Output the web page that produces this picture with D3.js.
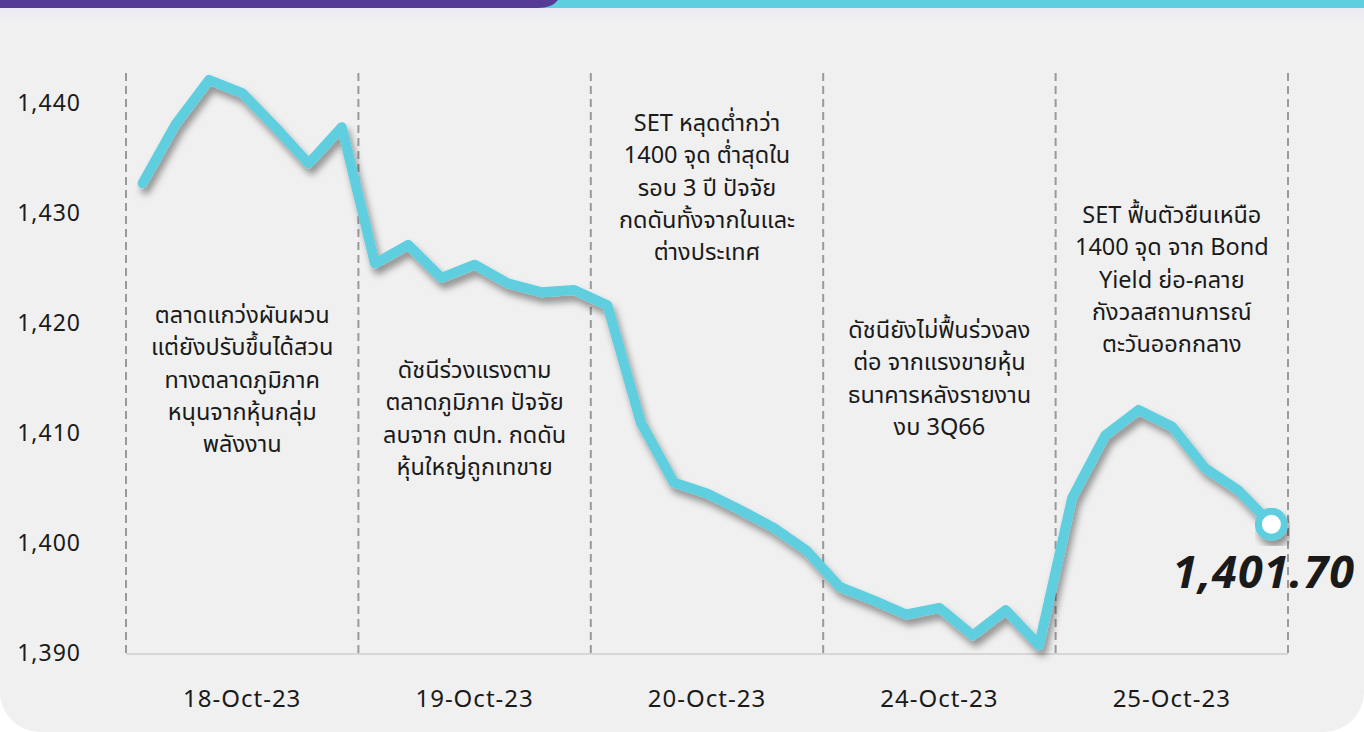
<!DOCTYPE html>
<html lang="th">
<head>
    <meta charset="UTF-8">
    <script src="https://d3js.org/d3.v7.min.js"></script>
</head>
<style>
    body{
        margin: 0;
        background: #ffffff;
    }
    .chart text{
        font-family: "Noto Sans Thai", "Noto Sans", "DejaVu Sans", sans-serif;
        fill: #1a1a1a;
    }
    .grid{
        stroke: #9a9a9a;
        stroke-width: 2px;
        stroke-dasharray: 8 5;
    }
    .baseline{
        stroke: #d6d6d6;
        stroke-width: 2px;
    }
    .set-line{
        fill: none;
        stroke: #5ecfdf;
        stroke-width: 10px;
        stroke-linejoin: round;
        stroke-linecap: round;
    }
</style>
<body>
    <div class="chart"></div>
<script>
    // SET index, intraday points per session
    const days = ['18-Oct-23', '19-Oct-23', '20-Oct-23', '24-Oct-23', '25-Oct-23']
    const oct18 = [1432.7, 1438.1, 1442.1, 1440.9, 1437.8, 1434.5, 1437.8]
    const oct19 = [1425.4, 1427.1, 1424.1, 1425.3, 1423.6, 1422.8, 1423.0]
    const oct20 = [1421.6, 1411.0, 1405.5, 1404.5, 1403.0, 1401.4, 1399.3]
    const oct24 = [1396.0, 1394.8, 1393.5, 1394.1, 1391.6, 1393.9, 1390.7]
    const oct25 = [1404.1, 1409.8, 1412.1, 1410.6, 1406.8, 1404.8, 1401.7]
    const yTicks = [1390, 1400, 1410, 1420, 1430, 1440]
    const lastLabel = '1,401.70'

    const notes = [
        ['ตลาดแกว่งผันผวน', 'แต่ยังปรับขึ้นได้สวน', 'ทางตลาดภูมิภาค', 'หนุนจากหุ้นกลุ่ม', 'พลังงาน'],
        ['ดัชนีร่วงแรงตาม', 'ตลาดภูมิภาค ปัจจัย', 'ลบจาก ตปท. กดดัน', 'หุ้นใหญ่ถูกเทขาย'],
        ['SET หลุดต่ำกว่า', '1400 จุด ต่ำสุดใน', 'รอบ 3 ปี ปัจจัย', 'กดดันทั้งจากในและ', 'ต่างประเทศ'],
        ['ดัชนียังไม่ฟื้นร่วงลง', 'ต่อ จากแรงขายหุ้น', 'ธนาคารหลังรายงาน', 'งบ 3Q66'],
        ['SET ฟื้นตัวยืนเหนือ', '1400 จุด จาก Bond', 'Yield ย่อ-คลาย', 'กังวลสถานการณ์', 'ตะวันออกกลาง']
    ]
    const noteTop = [316, 371, 124, 331, 216]

    const width = 1364,
        height = 732

    const values = [].concat(oct18, oct19, oct20, oct24, oct25)

    const svg = d3.select('.chart')
        .append('svg')
        .attr('width', width)
        .attr('height', height)

    const defs = svg.append('defs')
    const shadow = defs.append('filter')
        .attr('id', 'shadow')
        .attr('x', '-10%').attr('y', '-10%')
        .attr('width', '130%').attr('height', '140%')
    shadow.append('feDropShadow')
        .attr('dx', 3)
        .attr('dy', 6)
        .attr('stdDeviation', 3.5)
        .attr('flood-color', '#000')
        .attr('flood-opacity', 0.4)

    const fade = defs.append('linearGradient')
        .attr('id', 'fade')
        .attr('x1', 0).attr('y1', 0).attr('x2', 0).attr('y2', 1)
    fade.append('stop').attr('offset', 0).attr('stop-color', '#eceaf3')
    fade.append('stop').attr('offset', 1).attr('stop-color', '#f0f0f0')

    // panel + header bars
    svg.append('rect')
        .attr('x', 0).attr('y', -60)
        .attr('width', width).attr('height', height + 60)
        .attr('rx', 40)
        .attr('fill', '#f0f0f0')
    svg.append('rect')
        .attr('x', 0).attr('y', 8)
        .attr('width', width).attr('height', 16)
        .attr('fill', 'url(#fade)')
    svg.append('rect')
        .attr('x', 0).attr('y', 0)
        .attr('width', width).attr('height', 8)
        .attr('fill', '#5ecfdf')
    svg.append('path')
        .attr('d', 'M0,0 H558 Q552,8 538,8 H0 Z')
        .attr('fill', '#553b96')

    const left = 126, right = 1288

    const x = d3.scaleBand()
        .domain(d3.range(values.length))
        .range([left, right])
    const xDay = d3.scaleBand()
        .domain(days)
        .range([left, right])
    const y = d3.scaleLinear()
        .domain([1390, 1440])
        .range([653, 103])

    // day separators
    const bounds = days.map(d => xDay(d)).concat([right])
    svg.selectAll('.grid')
        .data(bounds)
        .enter().append('line')
        .attr('class', 'grid')
        .attr('x1', d => d).attr('x2', d => d)
        .attr('y1', 73).attr('y2', y(1390))

    svg.append('line')
        .attr('class', 'baseline')
        .attr('x1', left).attr('x2', right)
        .attr('y1', y(1390) + 1).attr('y2', y(1390) + 1)

    // y axis labels
    const yAxis = svg.append('g')
        .attr('transform', 'translate(81,0)')
        .call(d3.axisLeft(y).tickValues(yTicks).tickFormat(d3.format(',')).tickSize(0))
    yAxis.select('.domain').remove()
    yAxis.selectAll('text')
        .attr('x', 0)
        .style('font-size', '23px')
        .style('letter-spacing', '1px')
        .style('font-family', '"Noto Sans", "DejaVu Sans", sans-serif')
        .attr('fill', '#1a1a1a')

    // x axis labels
    svg.selectAll('.day')
        .data(days)
        .enter().append('text')
        .attr('class', 'day')
        .attr('x', d => xDay(d) + xDay.bandwidth() / 2)
        .attr('y', 700)
        .attr('text-anchor', 'middle')
        .attr('dominant-baseline', 'central')
        .style('font-size', '24px')
        .style('letter-spacing', '1px')
        .text(d => d)

    // notes
    notes.forEach((lines, i) => {
        svg.append('text')
            .attr('text-anchor', 'middle')
            .style('font-size', '23.5px')
            .selectAll('tspan')
            .data(lines)
            .enter().append('tspan')
            .attr('x', xDay(days[i]) + xDay.bandwidth() / 2)
            .attr('y', (d, j) => noteTop[i] + j * 32.3)
            .attr('dominant-baseline', 'central')
            .text(d => d)
    })

    // line
    const line = d3.line()
        .x((d, i) => x(i) + x.bandwidth() / 2)
        .y(d => y(d))

    svg.append('path')
        .datum(values)
        .attr('class', 'set-line')
        .attr('filter', 'url(#shadow)')
        .attr('d', line)

    const last = values.length - 1
    svg.append('circle')
        .attr('cx', x(last) + x.bandwidth() / 2)
        .attr('cy', y(values[last]))
        .attr('r', 13)
        .attr('fill', '#ffffff')
        .attr('stroke', '#5ecfdf')
        .attr('stroke-width', 7)
        .attr('filter', 'url(#shadow)')

    svg.append('text')
        .attr('x', 1355)
        .attr('y', 588)
        .attr('text-anchor', 'end')
        .style('font-size', '45px')
        .style('font-weight', 'bold')
        .style('font-style', 'italic')
        .style('letter-spacing', '1px')
        .style('font-family', '"Noto Sans", "DejaVu Sans", sans-serif')
        .attr('fill', '#111')
        .text(lastLabel)
</script>
</body>
</html>
